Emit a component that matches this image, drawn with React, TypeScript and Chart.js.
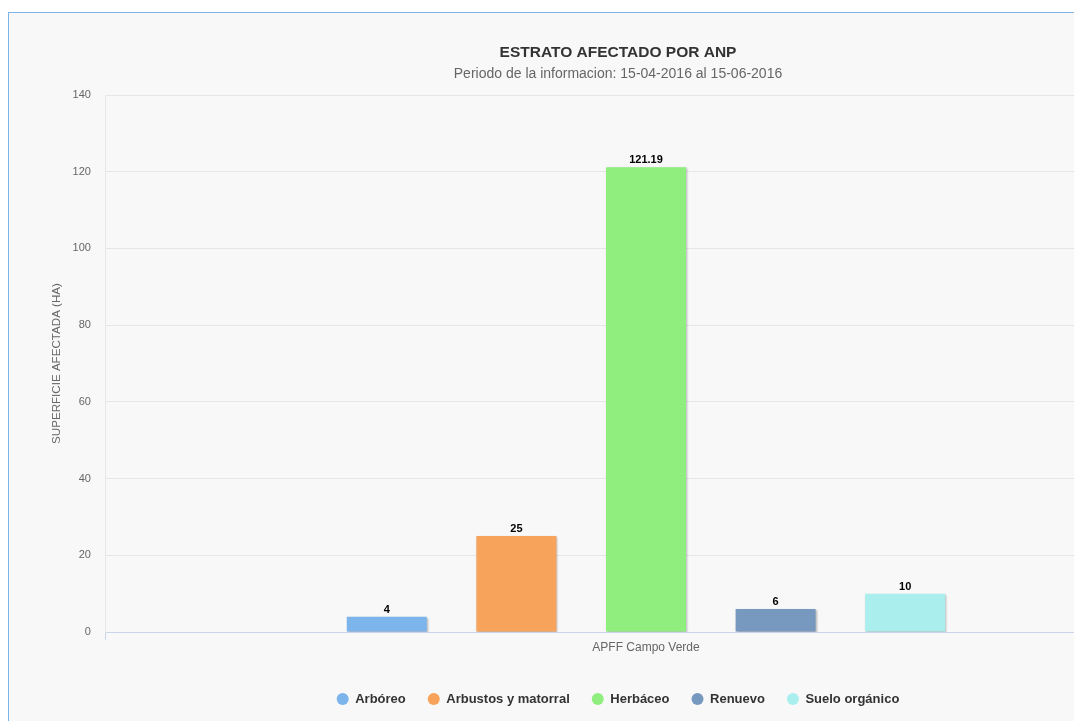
import React, { useEffect, useRef } from "react";
import { Chart, registerables } from "chart.js";

Chart.register(...registerables);

const categories = ["APFF Campo Verde"];
const seriesNames = ["Arbóreo", "Arbustos y matorral", "Herbáceo", "Renuevo", "Suelo orgánico"];
const arboreo = [4];
const arbustos = [25];
const herbaceo = [121.19];
const renuevo = [6];
const sueloOrganico = [10];
const seriesColors = ["#7cb5ec", "#f7a35c", "#90ee7e", "#7798BF", "#aaeeee"];
const yMin = 0;
const yMax = 140;
const yStep = 20;

const FONT = "'Liberation Sans', Arial, Helvetica, sans-serif";

const shadowPlugin = {
  id: "barShadow",
  beforeDatasetsDraw(chart: any) {
    const ctx = chart.ctx;
    ctx.save();
    ctx.shadowColor = "rgba(0,0,0,0.28)";
    ctx.shadowOffsetX = 1;
    ctx.shadowOffsetY = 1;
    ctx.shadowBlur = 2;
  },
  afterDatasetsDraw(chart: any) {
    chart.ctx.restore();
  },
};

const labelPlugin = {
  id: "barLabels",
  afterDatasetsDraw(chart: any) {
    const ctx = chart.ctx;
    ctx.save();
    ctx.font = `bold 11px ${FONT}`;
    ctx.fillStyle = "#000000";
    ctx.textAlign = "center";
    ctx.textBaseline = "alphabetic";
    chart.data.datasets.forEach((ds: any, i: number) => {
      const meta = chart.getDatasetMeta(i);
      meta.data.forEach((el: any, j: number) => {
        const v = ds.data[j];
        ctx.fillText(String(v), el.x, el.y - 4);
      });
    });
    ctx.restore();
  },
};

export default function App() {
  const ref = useRef<HTMLCanvasElement | null>(null);
  useEffect(() => {
    if (!ref.current) return;
    const values = [arboreo, arbustos, herbaceo, renuevo, sueloOrganico];
    const chart = new Chart(ref.current, {
      type: "bar",
      data: {
        labels: categories,
        datasets: seriesNames.map((name, i) => ({
          label: name,
          data: values[i],
          backgroundColor: seriesColors[i],
          borderWidth: 0,
          categoryPercentage: 0.6,
          barPercentage: 0.8,
          maxBarThickness: 80,
        })),
      },
      options: {
        animation: false,
        responsive: false,
        devicePixelRatio: 1,
        layout: { padding: { top: 0, left: 41, right: 39, bottom: 6.5 } },
        plugins: {
          tooltip: { enabled: false },
          title: {
            display: true,
            text: "ESTRATO AFECTADO POR ANP",
            color: "#333333",
            font: { family: FONT, size: 15.5, weight: "bold" },
            padding: { top: 30.7, bottom: 1.8 },
          },
          subtitle: {
            display: true,
            text: "Periodo de la informacion: 15-04-2016 al 15-06-2016",
            color: "#666666",
            font: { family: FONT, size: 14 },
            padding: { top: 2, bottom: 12.1 },
          },
          legend: {
            position: "bottom",
            title: { display: true, text: " ", font: { size: 1 }, padding: { top: 14.9, bottom: 0 } },
            labels: {
              usePointStyle: true,
              pointStyle: "circle",
              boxWidth: 12,
              boxHeight: 8.5,
              padding: 22,
              color: "#333333",
              font: { family: FONT, size: 13, weight: "bold" },
            },
          },
        },
        scales: {
          x: {
            offset: true,
            grid: {
              offset: true,
              drawOnChartArea: false,
              drawTicks: true,
              tickLength: 8,
              color: "#ccd6eb",
            },
            border: { display: true, color: "#ccd6eb" },
            ticks: { color: "#666666", font: { family: FONT, size: 12 }, padding: 0 },
          },
          y: {
            min: yMin,
            max: yMax,
            ticks: { stepSize: yStep, color: "#666666", font: { family: FONT, size: 11 }, padding: 15 },
            grid: {
              drawTicks: false,
              color: (c: any) => (c.tick && c.tick.value === 0 ? "#ccd6eb" : "#e6e6e6"),
            },
            border: { display: true, color: "#e6e6e6" },
            title: {
              display: true,
              text: "SUPERFICIE AFECTADA (HA)",
              color: "#666666",
              font: { family: FONT, size: 11.6 },
              padding: { top: 0, bottom: -6.3 },
            },
          },
        },
      },
      plugins: [shadowPlugin, labelPlugin],
    } as any);
    return () => chart.destroy();
  }, []);

  return (
    <div
      style={{
        position: "absolute",
        left: 8,
        top: 12,
        width: 1066,
        height: 709,
        overflow: "hidden",
        borderLeft: "1px solid #7cb5ec",
        borderTop: "1px solid #7cb5ec",
        background: "#f8f8f8",
      }}
    >
      <canvas ref={ref} width={1216} height={709} style={{ display: "block", width: 1216, height: 709 }} />
    </div>
  );
}
